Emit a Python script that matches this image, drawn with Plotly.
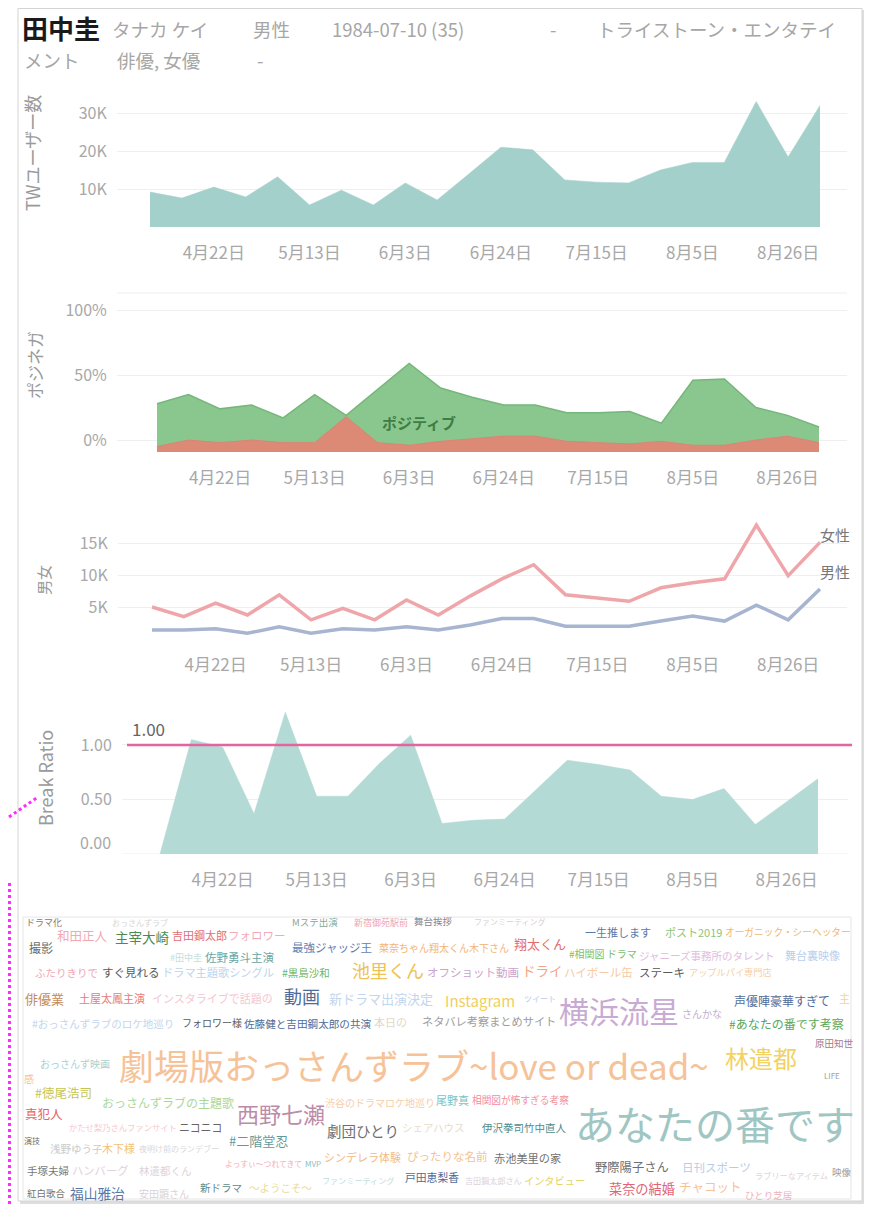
import plotly.graph_objects as go
import pandas as pd

# the page body keeps its default 8px margin, so the figure is sized to fit the
# 872x1212 window exactly and every placement is given in window pixels
PAGE_W, PAGE_H, BODY = 872, 1212, 8
W, H = PAGE_W - 2 * BODY, PAGE_H - 2 * BODY

# ---------------- data ----------------
week_start = pd.date_range("2019-04-08", periods=22, freq="7D")
tick_dates = ["2019-04-22", "2019-05-13", "2019-06-03", "2019-06-24",
              "2019-07-15", "2019-08-05", "2019-08-26"]
tick_labels = ["4月22日", "5月13日", "6月3日", "6月24日", "7月15日", "8月5日", "8月26日"]

tw_users = [9200, 7600, 10500, 7900, 13200, 5800, 9700, 5800, 11600, 7100, 14000,
            21000, 20300, 12400, 11800, 11600, 15000, 17000, 17000, 33000, 18400, 32000]
tw_ticks = [10000, 20000, 30000]
tw_tick_text = ["10K", "20K", "30K"]

positive_pct = [28, 35, 24, 27, 17, 35, 19, 39, 59, 40, 33, 27, 27, 21, 21, 22,
                13, 46, 47, 25, 19, 10]
negative_pct = [-5, 0, -2, 0, -2, -2, 18, -2, -4, -1, 1, 3, 3, -1, -2, -3,
                -1, -4, -4, 0, 3, -2]
pn_floor = -9.2
pn_ticks = [0, 50, 100]
pn_tick_text = ["0%", "50%", "100%"]

female_users = [5000, 3500, 5600, 3750, 6900, 3000, 4800, 3000, 6100, 3750, 6700,
                9400, 11600, 6900, 6400, 5900, 8000, 8800, 9400, 17800, 9900, 15100]
male_users = [1400, 1400, 1600, 900, 1900, 900, 1600, 1400, 1900, 1400, 2200,
              3200, 3200, 2000, 2000, 2000, 2800, 3600, 2800, 5300, 3000, 7800]
gender_ticks = [5000, 10000, 15000]
gender_tick_text = ["5K", "10K", "15K"]

break_ratio = [0.0, 1.05, 0.98, 0.37, 1.30, 0.53, 0.53, 0.83, 1.09, 0.28, 0.31,
               0.32, 0.59, 0.86, 0.82, 0.77, 0.53, 0.50, 0.60, 0.27, 0.48, 0.69]
reference_ratio = 1.0
br_ticks = [0, 0.5, 1.0]
br_tick_text = ["0.00", "0.50", "1.00"]

profile_name = "田中圭"
profile_fields_1 = ["タナカ ケイ", "男性", "1984-07-10 (35)", "-", "トライストーン・エンタテイ"]
profile_fields_2 = ["メント", "俳優, 女優", "-"]

cloud_words = [
    "ドラマ化", "おっさんずラブ", "Mステ出演", "新宿御苑駅前", "舞台挨拶", "ファンミーティング",
    "和田正人", "主宰大崎", "吉田鋼太郎", "フォロワー", "一生推します", "ポスト2019",
    "オーガニック・シーヘッター", "撮影", "最強ジャッジ王", "菜奈ちゃん翔太くん木下さん", "翔太くん",
    "#田中圭", "佐野勇斗主演", "#相関図 ドラマ", "ジャニーズ事務所のタレント", "舞台裏映像",
    "ふたりきりで", "すぐ見れる", "ドラマ主題歌シングル", "#黒島沙和", "池里くん", "オフショット動画",
    "ドライ", "ハイボール缶", "ステーキ", "アップルパイ専門店", "俳優業", "土屋太鳳主演",
    "インスタライブで話題の", "動画", "新ドラマ出演決定", "Instagram", "ツイート", "横浜流星",
    "さんかな", "声優陣豪華すぎて", "主", "#おっさんずラブのロケ地巡り", "フォロワー様",
    "佐藤健と吉田鋼太郎の共演", "本日の", "ネタバレ考察まとめサイト", "#あなたの番です考察",
    "おっさんず映画", "劇場版おっさんずラブ~love or dead~", "林遣都", "原田知世", "LIFE", "感",
    "#徳尾浩司", "おっさんずラブの主題歌", "西野七瀬", "渋谷のドラマロケ地巡り", "尾野真",
    "相関図が怖すぎる考察", "真犯人", "かたせ梨乃さんファンサイト", "ニコニコ", "劇団ひとり",
    "シェアハウス", "伊沢拳司竹中直人", "あなたの番です", "演技", "#二階堂忍", "浅野ゆう子",
    "木下様", "夜明け前のランデブー", "シンデレラ体験", "ぴったりな名前", "赤池美里の家",
    "よっすぃ〜つれてきて", "MVP", "手塚夫婦", "ハンバーグ", "林遣都くん", "野際陽子さん",
    "日刊スポーツ", "ラブリーなアイテム", "映像", "ファンミーティング", "戸田恵梨香",
    "吉田鋼太郎さん", "インタビュー", "菜奈の結婚", "チャコット", "紅白歌合", "福山雅治",
    "安田顕さん", "新ドラマ", "〜ようこそ〜", "ひとり芝居",
]
cloud_counts = [
    90, 80, 95, 90, 95, 80, 125, 135, 110, 115, 110, 110, 97, 120, 115, 100, 130,
    90, 115, 100, 105, 110, 105, 115, 112, 105, 180, 115, 135, 115, 115, 92, 130, 110,
    110, 180, 130, 150, 80, 300, 100, 120, 110, 105, 100, 106, 110, 112, 120,
    100, 350, 240, 95, 80, 100, 125, 120, 220, 100, 110, 97, 125, 83, 108, 145,
    105, 105, 400, 80, 130, 105, 110, 80, 110, 115, 112, 78, 80, 105, 113, 105, 123,
    115, 82, 95, 81, 108, 81, 102, 132, 125, 95, 137, 100, 105, 105, 95,
]

# ---------------- layout of the word cloud (placement + colour) ----------------
cloud_place = [
    (24, 922), (110, 922), (290, 922), (352, 922), (412, 921), (472, 921),
    (55, 935), (113, 937), (170, 935), (226, 935), (583, 932), (663, 932),
    (723, 932), (27, 947), (290, 947), (377, 947), (512, 943),
    (168, 957), (203, 957), (567, 953), (637, 955), (783, 955),
    (33, 972), (100, 972), (160, 972), (280, 972), (350, 970), (425, 972),
    (520, 970), (562, 972), (637, 972), (687, 972), (23, 998), (77, 998),
    (150, 998), (282, 996), (327, 998), (443, 1000), (522, 998), (557, 1010),
    (680, 1013), (732, 1000), (837, 998), (30, 1023), (180, 1022),
    (242, 1023), (372, 1022), (420, 1021), (727, 1023),
    (38, 1063), (117, 1064), (723, 1057), (813, 1043), (822, 1075), (22, 1078),
    (33, 1092), (100, 1102), (235, 1113), (323, 1102), (434, 1100),
    (470, 1100), (23, 1113), (67, 1127), (177, 1127), (325, 1130),
    (400, 1127), (480, 1127), (573, 1123), (22, 1140), (227, 1140), (48, 1148),
    (100, 1148), (137, 1148), (322, 1157), (405, 1156), (492, 1158),
    (223, 1163), (303, 1163), (25, 1170), (70, 1170), (137, 1170), (593, 1167),
    (680, 1167), (753, 1175), (830, 1172), (320, 1180), (403, 1177),
    (463, 1180), (522, 1180), (607, 1188), (677, 1186), (25, 1193), (68, 1193),
    (137, 1193), (198, 1187), (247, 1187), (743, 1195),
]
cloud_colors = [
    "#8a7a6a", "#d6d6d6", "#86a892", "#eea4b4", "#80848e", "#d2d2d2",
    "#f2a8b0", "#4e8a50", "#e26e76", "#f2aabb", "#5a78a8", "#8cc47a",
    "#f0b872", "#6a6a6a", "#6282b2", "#f3b474", "#e46c6c",
    "#c2e0dc", "#6aa6a6", "#7cc06c", "#e2bce0", "#b8d0ee",
    "#f2a6b6", "#5a5a5a", "#bed4ee", "#6cb864", "#eec252", "#caa4cc",
    "#f2a486", "#f6caa4", "#5a5a5a", "#f7cea4", "#c48c58", "#e87a7a",
    "#f6c6d2", "#4f6c99", "#c2d6ee", "#f0cf5e", "#b8cce8", "#c8aad4",
    "#c4acca", "#4f6c99", "#f0d88a", "#c2d6ee", "#5a5a5a",
    "#4f6c99", "#e2d8c6", "#9c9c9c", "#5aa85a",
    "#a8d2d2", "#f6c298", "#f2d262", "#a87888", "#a0a0a0", "#f2c494",
    "#c4c454", "#aad89a", "#bc8ca8", "#f7cea8", "#7cc2c2",
    "#f28e9c", "#e26464", "#f6c8d2", "#666666", "#6e6e6e",
    "#e6dccc", "#4f8c8a", "#a0c6c4", "#6a6a6a", "#5f9a98", "#cacaca",
    "#f2c274", "#d8d8d8", "#f6ba84", "#f6c28c", "#727272",
    "#f4aab4", "#8cc2c2", "#787878", "#e2d2da", "#ded2da", "#6e6e6e",
    "#b8cce8", "#e2d2da", "#a0a0a0", "#bedede", "#4f6c99",
    "#dad2da", "#e8d264", "#e26474", "#f6c294", "#727272", "#5a78a8",
    "#dad2d2", "#5f8c8a", "#ecdc9a", "#f0b2ba",
]

# ---------------- styling helpers ----------------
FONT = "Noto Sans CJK JP"
TICK = "#a8a8a8"
TITLE = "#9a9a9a"
GRID = "#efefef"


def xd(px):
    """window pixel x -> paper fraction"""
    return (px - BODY) / W


def yd(py):
    """window pixel y -> paper fraction"""
    return 1 - (py - BODY) / H


def x_axis(first_px, last_px, left_px, right_px, anchor):
    days = (week_start[-1] - week_start[0]) / pd.Timedelta(days=1)
    ppd = (last_px - first_px) / days
    r0 = week_start[0] - pd.Timedelta(days=(first_px - left_px) / ppd)
    r1 = week_start[-1] + pd.Timedelta(days=(right_px - last_px) / ppd)
    return dict(type="date", domain=[xd(left_px), xd(right_px)],
                range=[r0.isoformat(), r1.isoformat()], anchor=anchor,
                tickmode="array", tickvals=tick_dates, ticktext=tick_labels,
                showgrid=False, zeroline=False, showline=False, automargin=False,
                ticks="outside", ticklen=11, tickcolor="rgba(0,0,0,0)",
                tickfont=dict(size=17, color=TICK, family=FONT), fixedrange=True)


def y_axis(lo, hi, bottom_px, top_px, anchor, tickvals, ticktext, grid=True):
    return dict(domain=[yd(bottom_px), yd(top_px)], range=[lo, hi], anchor=anchor,
                tickmode="array", tickvals=tickvals, ticktext=ticktext,
                showgrid=grid, gridcolor=GRID, gridwidth=1, zeroline=False,
                showline=False, automargin=False, ticks="outside", ticklen=6,
                tickcolor="rgba(0,0,0,0)",
                tickfont=dict(size=16, color=TICK, family=FONT), fixedrange=True)


fig = go.Figure()

# chart 1 : TW users
fig.add_trace(go.Scatter(x=week_start, y=tw_users, mode="lines", fill="tozeroy",
                         line=dict(color="#a2cfcb", width=0.5), fillcolor="#a4d0cc",
                         xaxis="x", yaxis="y", hoverinfo="skip", showlegend=False))

# chart 2 : positive / negative
floor = [pn_floor] * len(week_start)
fig.add_trace(go.Scatter(x=week_start, y=floor, mode="lines", line=dict(width=0),
                         xaxis="x2", yaxis="y2", hoverinfo="skip", showlegend=False))
fig.add_trace(go.Scatter(x=week_start, y=positive_pct, mode="lines", fill="tonexty",
                         line=dict(color="#76b67b", width=1.5), fillcolor="#8ac78e",
                         xaxis="x2", yaxis="y2", hoverinfo="skip", showlegend=False))
fig.add_trace(go.Scatter(x=week_start, y=floor, mode="lines", line=dict(width=0),
                         xaxis="x2", yaxis="y2", hoverinfo="skip", showlegend=False))
fig.add_trace(go.Scatter(x=week_start, y=negative_pct, mode="lines", fill="tonexty",
                         line=dict(color="#d98672", width=1), fillcolor="#dc8a76",
                         xaxis="x2", yaxis="y2", hoverinfo="skip", showlegend=False))

# chart 3 : female / male
fig.add_trace(go.Scatter(x=week_start, y=female_users, mode="lines",
                         line=dict(color="#efa6aa", width=3.5),
                         xaxis="x3", yaxis="y3", hoverinfo="skip", showlegend=False))
fig.add_trace(go.Scatter(x=week_start, y=male_users, mode="lines",
                         line=dict(color="#a7b5d0", width=3.5),
                         xaxis="x3", yaxis="y3", hoverinfo="skip", showlegend=False))

# chart 4 : break ratio
fig.add_trace(go.Scatter(x=week_start, y=break_ratio, mode="lines", fill="tozeroy",
                         line=dict(color="#b2d9d4", width=0.5), fillcolor="#b4dad5",
                         xaxis="x4", yaxis="y4", hoverinfo="skip", showlegend=False))

fig.update_layout(
    width=W, height=H, margin=dict(l=0, r=0, t=0, b=0, pad=0, autoexpand=False),
    paper_bgcolor="white", plot_bgcolor="rgba(0,0,0,0)",
    font=dict(family=FONT, color=TITLE), showlegend=False,
    xaxis=x_axis(150, 820, 117, 847, "y"),
    yaxis=y_axis(0, 35263, 227, 93, "x", tw_ticks, tw_tick_text),
    xaxis2=x_axis(157, 819, 117, 847, "y2"),
    yaxis2=y_axis(pn_floor, 107, 452, 301, "x2", pn_ticks, pn_tick_text),
    xaxis3=x_axis(152, 820, 118, 847, "y3"),
    yaxis3=y_axis(0, 19375, 639, 515, "x3", gender_ticks, gender_tick_text),
    xaxis4=x_axis(160, 818, 122, 848, "y4"),
    # the 0.00 label of this axis is lifted inside the pane (drawn below as a label)
    yaxis4=y_axis(0, 1.385, 854, 703, "x4", br_ticks[1:], br_tick_text[1:]),
)

shapes = [
    # card shadow + card
    dict(type="rect", xref="paper", yref="paper", x0=xd(20), x1=xd(864), y0=yd(1204), y1=yd(10),
         fillcolor="#dedede", line=dict(width=0), layer="below"),
    dict(type="rect", xref="paper", yref="paper", x0=xd(18), x1=xd(862), y0=yd(1201), y1=yd(8.5),
         fillcolor="white", line=dict(color="#d4d4d4", width=1), layer="below"),
    # word cloud box
    dict(type="rect", xref="paper", yref="paper", x0=xd(23), x1=xd(851), y0=yd(1199), y1=yd(917),
         fillcolor="rgba(0,0,0,0)", line=dict(color="#e6e6e6", width=1), layer="below"),
    # separator above chart 2
    dict(type="line", xref="paper", yref="paper", x0=xd(117), x1=xd(847), y0=yd(293), y1=yd(293),
         line=dict(color="#eeeeee", width=1), layer="below"),
    # gridline at 0 of chart 4
    dict(type="line", xref="x4 domain", yref="y4", x0=0, x1=1, y0=br_ticks[0], y1=br_ticks[0],
         line=dict(color=GRID, width=1), layer="below"),
    # reference line in chart 4
    dict(type="line", xref="paper", yref="y4", x0=xd(127), x1=xd(852),
         y0=reference_ratio, y1=reference_ratio, line=dict(color="#e4649f", width=2.5)),
    # magenta dotted annotation guides
    dict(type="line", xref="paper", yref="paper", x0=xd(9), x1=xd(38), y0=yd(817), y1=yd(797),
         line=dict(color="#ff2bff", width=3, dash="dot")),
    dict(type="line", xref="paper", yref="paper", x0=xd(9.5), x1=xd(9.5), y0=yd(883), y1=yd(1204),
         line=dict(color="#ff2bff", width=3, dash="dot")),
]

ann = []


def label(text, x_px, y_px, size, color, anchor="left", angle=0, yref="paper", y_val=None,
          yshift=0):
    ann.append(dict(text=text, x=xd(x_px), xref="paper",
                    y=yd(y_px) if y_val is None else y_val, yref=yref,
                    xanchor=anchor, yanchor="middle", showarrow=False, textangle=angle,
                    yshift=yshift, font=dict(family=FONT, size=size, color=color)))


# header
label("<b>" + profile_name + "</b>", 20, 28, 26, "#1a1a1a")
for txt, xp in zip(profile_fields_1, [110, 251, 330, 548, 595]):
    label(txt, xp, 29, 18.5, "#a6a6a6")
for txt, xp in zip(profile_fields_2, [22, 115, 255]):
    label(txt, xp, 60, 18.5, "#a6a6a6")

# axis titles
label("TWユーザー数", 32, 153, 18, TITLE, anchor="center", angle=-90)
label("ポジネガ", 34, 365, 17, TITLE, anchor="center", angle=-90)
label("男女", 43, 580, 15, TITLE, anchor="center", angle=-90)
label("Break Ratio", 45, 778, 18, TITLE, anchor="center", angle=-90)

# lifted bottom tick label of the break-ratio axis
label(br_tick_text[0], 113, 0, 16, TICK, anchor="right", yref="y4", y_val=br_ticks[0],
      yshift=12)

# in-chart labels
label("<b>ポジティブ</b>", 380, 422, 15, "#3f7d44")
label("女性", 818, 534, 15, "#777777")
label("男性", 818, 571, 15, "#777777")
label("1.00", 130, 0, 17, "#666666", yref="y4", y_val=reference_ratio, yshift=16)

# word cloud
for word, cnt, (px, py), col in zip(cloud_words, cloud_counts, cloud_place, cloud_colors):
    label(word, px, py, cnt / 10.0, col)

fig.update_layout(shapes=shapes, annotations=ann)
fig.write_html("out.html")
